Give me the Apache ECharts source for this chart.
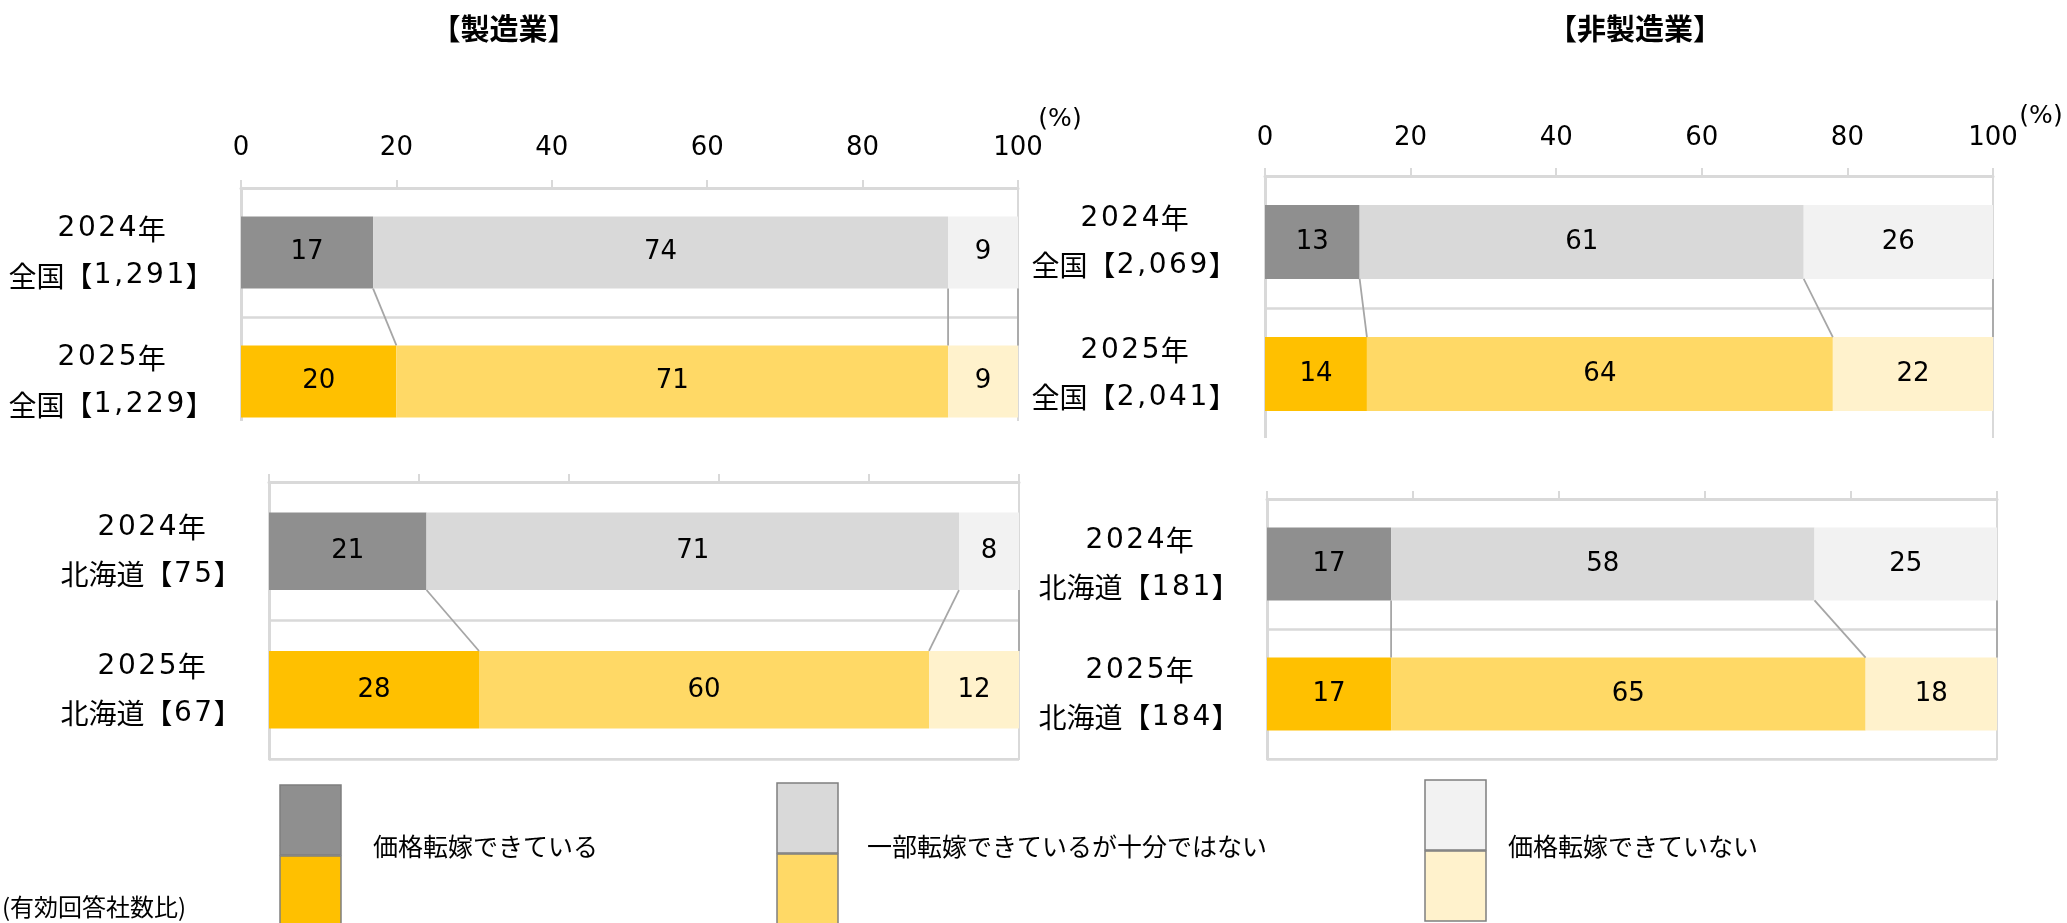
<!DOCTYPE html>
<html>
<head>
<meta charset="utf-8">
<script src="https://cdn.jsdelivr.net/npm/echarts@6/dist/echarts.min.js"></script>
<style>
html,body{margin:0;padding:0;background:#fff;}
#c{width:2067px;height:923px;}
</style>
</head>
<body>
<div id="c"></div>
<script>
// ---------- data ----------
const panelTitles = ['【製造業】', '【非製造業】'];
const segmentNames = ['価格転嫁できている', '一部転嫁できているが十分ではない', '価格転嫁できていない'];

const mfgNationalCats = ['2024年\n全国【1,291】', '2025年\n全国【1,229】'];
const mfgHokkaidoCats = ['2024年\n北海道【75】', '2025年\n北海道【67】'];
const nonNationalCats = ['2024年\n全国【2,069】', '2025年\n全国【2,041】'];
const nonHokkaidoCats = ['2024年\n北海道【181】', '2025年\n北海道【184】'];

const mfgNational2024 = [17, 74, 9];
const mfgNational2025 = [20, 71, 9];
const mfgHokkaido2024 = [21, 71, 8];
const mfgHokkaido2025 = [28, 60, 12];
const nonNational2024 = [13, 61, 26];
const nonNational2025 = [14, 64, 22];
const nonHokkaido2024 = [17, 58, 25];
const nonHokkaido2025 = [17, 65, 18];

const axisMin = 0, axisMax = 100, axisStep = 20;
const unitLabel = '(%)';
const noteLabel = '(有効回答社数比)';

// ---------- styles ----------
const colors2024 = ['#8f8f8f', '#d9d9d9', '#f2f2f2'];
const colors2025 = ['#ffc000', '#ffd966', '#fff2cc'];
const latin = "'DejaVu Sans','Noto Sans CJK JP',sans-serif";
const cjk = "'Noto Sans CJK JP','DejaVu Sans',sans-serif";
const lineGray = '#d9d9d9';
const barRatio = 0.56;

const panels = [
  {cats: mfgNationalCats, a: mfgNational2024, b: mfgNational2025,
   layout: {left: 241, top: 188, width: 777, height: 258, catMargin: 130, labels: true, tickMargin: 27}},
  {cats: mfgHokkaidoCats, a: mfgHokkaido2024, b: mfgHokkaido2025,
   layout: {left: 269, top: 482, width: 750, height: 277, catMargin: 118, labels: false, tickMargin: 27}},
  {cats: nonNationalCats, a: nonNational2024, b: nonNational2025,
   layout: {left: 1265, top: 176, width: 728, height: 264, catMargin: 131, labels: true, tickMargin: 25}},
  {cats: nonHokkaidoCats, a: nonHokkaido2024, b: nonHokkaido2025,
   layout: {left: 1267, top: 499, width: 730, height: 260, catMargin: 128, labels: false, tickMargin: 25}}
];

function cumulative(arr) { let s = 0; return arr.map(v => (s += v)); }

// spaced category label (digits drawn with a little tracking, as in the source)
function spacedLabel(value) {
  return String(value).split('\n').map(line =>
    Array.from(line).map(ch => (/[0-9,]/.test(ch) ? '{d|' + ch + '}' : '{c|' + ch + '}')).join('')
  ).join('\n');
}
const catRich = {
  d: {fontSize: 28, lineHeight: 47, fontFamily: latin, color: '#000', padding: [0, 1.3]},
  c: {fontSize: 28, lineHeight: 47, fontFamily: cjk, color: '#000'}
};

const grid = [], xAxis = [], yAxis = [], series = [];
panels.forEach((p, i) => {
  const L = p.layout;
  grid.push({left: L.left, top: L.top, width: L.width, height: L.height,
    show: true, borderColor: lineGray, borderWidth: 2, backgroundColor: 'transparent'});
  xAxis.push({
    gridIndex: i, type: 'value', position: 'top', min: axisMin, max: axisMax, interval: axisStep,
    axisLine: {show: true, lineStyle: {color: lineGray, width: 3}},
    axisTick: {show: true, length: 8, lineStyle: {color: lineGray, width: 2}},
    axisLabel: {show: L.labels, margin: L.tickMargin, fontSize: 26, color: '#000', fontFamily: latin},
    splitLine: {show: false}
  });
  yAxis.push({
    gridIndex: i, type: 'category', inverse: true, data: p.cats,
    axisLine: {show: true, lineStyle: {color: lineGray, width: 3}},
    axisTick: {show: false},
    axisLabel: {show: true, margin: L.catMargin, align: 'center', fontSize: 28, lineHeight: 47,
      color: '#000', fontFamily: latin, formatter: spacedLabel, rich: catRich},
    splitLine: {show: true, lineStyle: {color: lineGray, width: 2.5}}
  });
  for (let k = 0; k < 3; k++) {
    series.push({
      type: 'bar', name: segmentNames[k], xAxisIndex: i, yAxisIndex: i, stack: 'stack' + i,
      barWidth: (barRatio * 100) + '%',
      data: [
        {value: p.a[k], itemStyle: {color: colors2024[k]}},
        {value: p.b[k], itemStyle: {color: colors2025[k]}}
      ],
      label: {show: true, position: 'inside', formatter: '{c}', fontSize: 26, color: '#000', fontFamily: latin},
      emphasis: {disabled: true},
      silent: true
    });
  }
  const ca = cumulative(p.a), cb = cumulative(p.b);
  series.push({
    type: 'custom', xAxisIndex: i, yAxisIndex: i, silent: true, z: 3,
    encode: {x: 0, y: 2},
    data: ca.map((v, j) => [v, cb[j], 0]),
    renderItem: function (params, api) {
      const p1 = api.coord([api.value(0), 0]);
      const p2 = api.coord([api.value(1), 1]);
      const band = api.size([0, 1])[1];
      const half = band * barRatio / 2;
      return {
        type: 'line',
        shape: {x1: p1[0], y1: p1[1] + half, x2: p2[0], y2: p2[1] - half},
        style: {stroke: '#a6a6a6', lineWidth: 1.8}
      };
    }
  });
});

// legend-like graphics
const legendItems = [
  {x: 280, y: 785, tx: 373},
  {x: 777, y: 783, tx: 867},
  {x: 1425, y: 780, tx: 1508}
];
const graphic = [];
// cover the lower part of the upper panels (they are overlapped by lower panels in the source)
graphic.push({type: 'rect', z: 100, shape: {x: 228, y: 421, width: 800, height: 50}, style: {fill: '#fff'}});
graphic.push({type: 'rect', z: 100, shape: {x: 1252, y: 438, width: 760, height: 50}, style: {fill: '#fff'}});

graphic.push({type: 'text', z: 101, x: 504, y: 29,
  style: {text: panelTitles[0], fontSize: 29, fontWeight: 'bold', fontFamily: cjk, fill: '#000', align: 'center', verticalAlign: 'middle'}});
graphic.push({type: 'text', z: 101, x: 1635, y: 29,
  style: {text: panelTitles[1], fontSize: 29, fontWeight: 'bold', fontFamily: cjk, fill: '#000', align: 'center', verticalAlign: 'middle'}});
graphic.push({type: 'text', z: 101, x: 1060, y: 119,
  style: {text: unitLabel, fontSize: 25, fontFamily: latin, fill: '#000', align: 'center', verticalAlign: 'middle'}});
graphic.push({type: 'text', z: 101, x: 2041, y: 116,
  style: {text: unitLabel, fontSize: 25, fontFamily: latin, fill: '#000', align: 'center', verticalAlign: 'middle'}});
graphic.push({type: 'text', z: 101, x: 2, y: 907,
  style: {text: noteLabel, fontSize: 24, fontFamily: cjk, fill: '#000', align: 'left', verticalAlign: 'middle'}});

legendItems.forEach((it, k) => {
  graphic.push({type: 'rect', z: 101, x: it.x, y: it.y, shape: {x: 0, y: 0, width: 61, height: 70},
    style: {fill: colors2024[k], stroke: '#7f7f7f', lineWidth: 1.5}});
  graphic.push({type: 'rect', z: 101, x: it.x, y: it.y + 71, shape: {x: 0, y: 0, width: 61, height: 70},
    style: {fill: colors2025[k], stroke: '#7f7f7f', lineWidth: 1.5}});
  graphic.push({type: 'text', z: 101, x: it.tx, y: 846,
    style: {text: segmentNames[k], fontSize: 25, fontFamily: cjk, fill: '#000', align: 'left', verticalAlign: 'middle'}});
});

const chart = echarts.init(document.getElementById('c'), null, {renderer: 'canvas'});
chart.setOption({
  backgroundColor: '#fff',
  animation: false,
  grid, xAxis, yAxis, series, graphic
});
</script>
</body>
</html>
